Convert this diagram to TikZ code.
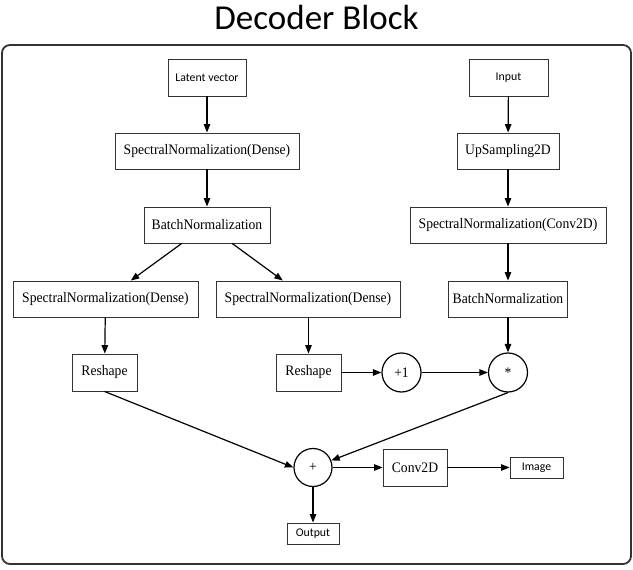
\documentclass[tikz,border=0pt]{standalone}
\usepackage{fontspec}
\setmainfont{Liberation Serif}
\newfontfamily\tnr[FakeStretch=0.94]{Liberation Serif}
\newfontfamily\calib{Carlito}
\usetikzlibrary{arrows.meta}
\begin{document}
\begin{tikzpicture}[x=1pt,y=-1pt,
  box/.style={draw=black!80, line width=0.9pt, inner sep=0pt, font=\tnr\fontsize{14.5}{16}\selectfont},
  sbox/.style={box, font=\calib\fontsize{11.8}{13}\selectfont},
  op/.style={draw=black, circle, line width=1.2pt, minimum size=38pt, inner sep=0pt, font=\tnr\fontsize{14.5}{16}\selectfont},
  arr/.style={-{Triangle[length=8.5pt,width=6.5pt]}, line width=1.2pt},
  ]
\useasboundingbox (0,0) rectangle (633,570);
\fill[white] (0,0) rectangle (633,570);
\node[font=\calib\fontsize{35}{40}\selectfont, anchor=base, inner sep=0pt] (title) at (316.5,30) {Decoder Block};
\draw[rounded corners=8pt, line width=1.8pt, draw=black!80] (2,45) rectangle (631,564);

\node[sbox, minimum width=78pt, minimum height=37pt] (lat) at (207,77.5) {Latent vector};
\node[box, minimum width=184pt, minimum height=36pt] (sn1) at (207,151) {SpectralNormalization(Dense)};
\node[box, minimum width=126pt, minimum height=36pt] (bn1) at (207,225) {BatchNormalization};
\node[box, minimum width=185pt, minimum height=36pt] (snl) at (105.5,299) {SpectralNormalization(Dense)};
\node[box, minimum width=184pt, minimum height=36pt] (snr) at (308,299) {SpectralNormalization(Dense)};
\node[box, minimum width=65pt, minimum height=37pt] (rsl) at (104.5,372.5) {Reshape};
\node[box, minimum width=65pt, minimum height=37pt] (rsr) at (308.5,372.5) {Reshape};

\node[sbox, minimum width=79pt, minimum height=37pt] (inp) at (508.5,77.5) {Input};
\node[box, minimum width=102pt, minimum height=36pt] (ups) at (508,151) {UpSampling2D};
\node[box, minimum width=196pt, minimum height=36pt] (snc) at (508,225) {SpectralNormalization(Conv2D)};
\node[box, minimum width=119pt, minimum height=36pt] (bn2) at (508,299) {BatchNormalization};

\node[op, minimum size=39pt] (p1) at (401.5,372.5) {+1};
\node[op, minimum size=39pt] (mul) at (508,372.5) {*};
\node[op] (plus) at (313,467.5) {+};
\node[box, minimum width=64pt, minimum height=37pt] (conv) at (415,467.5) {Conv2D};
\node[sbox, minimum width=53pt, minimum height=21pt] (img) at (536.5,467.5) {Image};
\node[sbox, minimum width=52pt, minimum height=21pt] (out) at (313,533.5) {Output};

\draw[arr] (lat) -- (sn1);
\draw[arr] (sn1) -- (bn1);
\draw[arr] (bn1) -- (snl);
\draw[arr] (bn1) -- (snr);
\draw[arr] (snl) -- (rsl);
\draw[arr] (snr.south -| rsr) -- (rsr);
\draw[arr] (inp) -- (ups);
\draw[arr] (ups) -- (snc);
\draw[arr] (snc) -- (bn2);
\draw[arr] (bn2) -- (mul);
\draw[arr] (rsr) -- (p1);
\draw[arr] (p1) -- (mul);
\draw[arr] (rsl.south) -- (plus.west);
\draw[arr] (mul.south) -- (plus);
\draw[arr] (plus) -- (conv);
\draw[arr] (conv) -- (img);
\draw[arr] (plus) -- (out);
\end{tikzpicture}
\end{document}
